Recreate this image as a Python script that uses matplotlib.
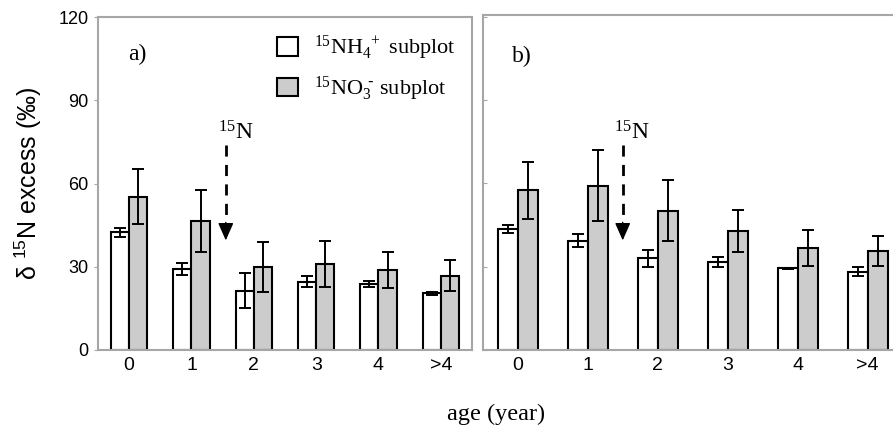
import matplotlib
matplotlib.use("Agg")
import matplotlib.pyplot as plt
import numpy as np
from matplotlib.patches import Patch

ages = ["0", "1", "2", "3", "4", ">4"]

# panel a
a_nh4 = [42.4, 29.1, 21.4, 24.6, 23.8, 20.4]
a_nh4_err = [1.5, 2.2, 6.4, 2.0, 1.2, 0.6]
a_no3 = [55.3, 46.6, 29.9, 30.9, 28.8, 26.8]
a_no3_err = [10.0, 11.2, 8.9, 8.3, 6.4, 5.6]

# panel b
b_nh4 = [43.7, 39.4, 33.0, 31.7, 29.4, 28.2]
b_nh4_err = [1.5, 2.3, 3.0, 1.7, 0.3, 1.6]
b_no3 = [57.5, 59.2, 50.2, 42.8, 36.8, 35.6]
b_no3_err = [10.4, 12.8, 11.1, 7.5, 6.4, 5.5]

serif = "Liberation Serif"
sans = "Liberation Sans"
spine_col = "#a6a6a6"
gray_fill = "#cccccc"

fig = plt.figure(figsize=(8.93, 4.29), dpi=100)
ax_a = fig.add_axes([98/893, 79/429, 374/893, 333/429])
ax_b = fig.add_axes([482.7/893, 79/429, 420/893, 335/429])


def draw_panel(ax, nh4, nh4_err, no3, no3_err, width, arrow_x, top):
    x = np.arange(len(ages))
    ekw = dict(elinewidth=1.4, capthick=1.4, ecolor="black")
    ax.bar(x - width/2, nh4, width, yerr=nh4_err, capsize=4, color="white",
           edgecolor="black", linewidth=1.5, error_kw=ekw, zorder=2)
    ax.bar(x + width/2, no3, width, yerr=no3_err, capsize=4, color=gray_fill,
           edgecolor="black", linewidth=1.5, error_kw=ekw, zorder=2)
    ax.set_xlim(-0.5, len(ages) - 0.5)
    ax.set_ylim(0, top)
    ax.set_xticks(x)
    ax.set_xticklabels(ages, fontfamily=sans, fontsize=14)
    ax.tick_params(axis="x", length=0, pad=5)
    for s in ax.spines.values():
        s.set_color(spine_col)
        s.set_linewidth(1.5)
    # 15N application arrow
    ax.plot([arrow_x, arrow_x], [74, 46], ls=(0, (4, 3)), color="black", lw=2)
    ax.annotate("", xy=(arrow_x, 39.5), xytext=(arrow_x, 46),
                arrowprops=dict(arrowstyle="-|>,head_width=0.34,head_length=0.77",
                                mutation_scale=14, color="black", lw=1,
                                shrinkA=0, shrinkB=0))
    ax.text(arrow_x - 0.12, 74, r"$\mathregular{^{15}}$N", fontfamily=serif,
            fontsize=17, ha="left", va="bottom")


draw_panel(ax_a, a_nh4, a_nh4_err, a_no3, a_no3_err, 0.29, 1.55, 120)
draw_panel(ax_b, b_nh4, b_nh4_err, b_no3, b_no3_err, 0.286, 1.5, 120.7)

ax_a.set_yticks([0, 30, 60, 90, 120])
ax_a.set_yticklabels(["0", "30", "60", "90", "120"], fontfamily=sans, fontsize=13)
ax_a.tick_params(axis="y", length=3, color=spine_col, pad=4)
ax_b.set_yticks([0, 30, 60, 90, 120])
ax_b.set_yticklabels([])
ax_b.tick_params(axis="y", direction="in", length=3, color=spine_col)
ax_b.spines["right"].set_visible(False)

ax_a.text(0.08, 0.87, "a)", transform=ax_a.transAxes, fontfamily=serif, fontsize=17)
ax_b.text(0.07, 0.86, "b)", transform=ax_b.transAxes, fontfamily=serif, fontsize=17)

handles = [Patch(facecolor="white", edgecolor="black", linewidth=1.5),
           Patch(facecolor=gray_fill, edgecolor="black", linewidth=1.5)]
labels = [r"$\mathregular{^{15}NH_4^{\ +}}$ subplot",
          r"$\mathregular{^{15}NO_3^{\ \text{-}}}$ subplot"]
ax_a.legend(handles, labels, loc="upper left", bbox_to_anchor=(0.455, 0.975),
            frameon=False, prop=dict(family=serif, size=16),
            handlelength=0.95, handleheight=0.9, handletextpad=0.7,
            labelspacing=0.55, borderaxespad=0)

ax_a.set_ylabel(r"δ $\mathregular{^{15}}$N excess (‰)", fontfamily=sans, fontsize=18,
                labelpad=10)
fig.text(496/893, 1 - 414/429, "age (year)", fontfamily=serif, fontsize=17.5,
         ha="center", va="center")

fig.savefig("out.png", dpi=100)
